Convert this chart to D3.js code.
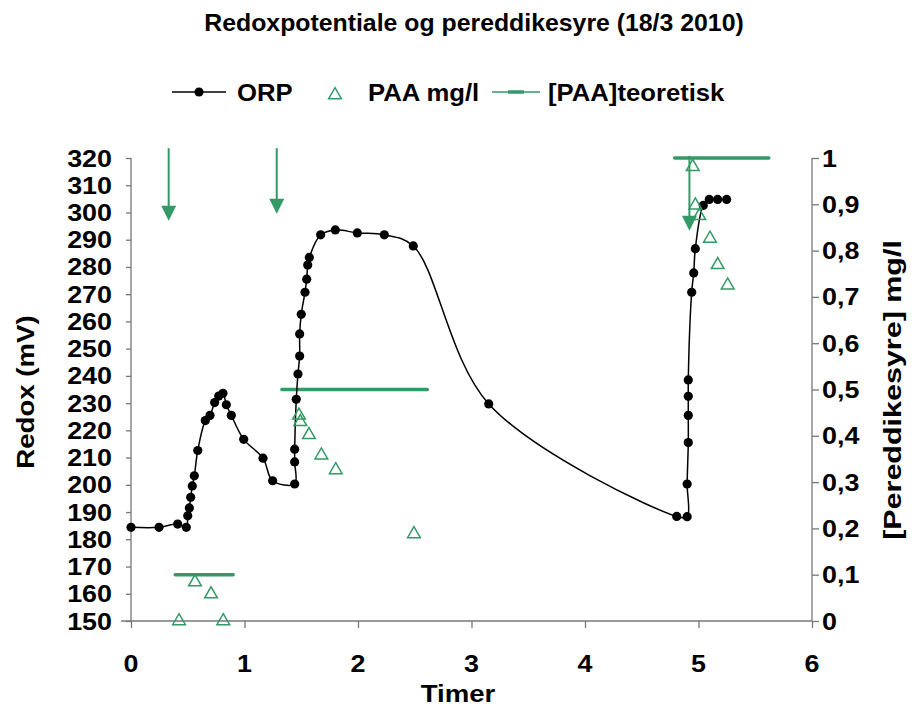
<!DOCTYPE html>
<html><head><meta charset="utf-8">
<script src="https://cdn.jsdelivr.net/npm/d3@7"></script>
<style>
body{margin:0;background:#fff;}
text{font-family:"Liberation Sans",Arial,sans-serif;font-weight:bold;fill:#000;}
</style></head>
<body><svg id="c" width="915" height="706"></svg>
<script>
// ORP (mV), time in hours
const orpTime = [0,0.247,0.411,0.487,0.50,0.514,0.526,0.54,0.558,0.588,0.655,0.696,0.737,0.773,0.81,0.84,0.884,0.993,1.163,1.248,1.442,1.442,1.442,1.456,1.471,1.486,1.486,1.50,1.533,1.548,1.557,1.571,1.671,1.80,1.994,2.232,2.487,3.152,4.808,4.90,4.90,4.91,4.91,4.91,4.91,4.94,4.958,4.972,5.042,5.095,5.169,5.248];
const orpValue = [184.4,184.4,185.6,184.4,188.6,191.5,195.4,199.6,203.3,212.6,223.6,225.5,230.2,232.6,233.6,229.4,225.5,216.7,209.8,201.5,200.3,208.4,213.1,231.4,240.7,247.3,255.4,262.6,270.7,275.5,280.7,283.5,291.8,293.6,292.5,291.8,287.7,229.7,188.4,188.3,200.3,215.5,225.5,232.5,238.5,270.7,277.8,286.7,302.6,304.8,304.8,304.8];
// PAA measured (mg/l)
const paaTime = [0.423,0.564,0.705,0.813,1.48,1.492,1.568,1.677,1.804,2.493,4.949,4.972,5.007,5.101,5.169,5.257];
const paaValue = [0,0.084,0.058,0,0.444,0.43,0.402,0.358,0.326,0.188,0.981,0.898,0.875,0.826,0.769,0.725];
// Theoretical PAA (mg/l): start time, end time, level
const theoStart = [0.39,1.33,4.79];
const theoEnd = [0.90,2.61,5.62];
const theoLevel = [0.1,0.5,1.0];
// Dosing arrows: time, top (mV), tip (mV)
const arrowTime = [0.332,1.284,4.92];
const arrowTop = [323.6,323.6,320.8];
const arrowTip = [297.0,299.5,293.3];
// Ticks
const xTicks = [0,1,2,3,4,5,6];
const yLeftTicks = d3.range(150,321,10);
const yRightTicks = [0,0.1,0.2,0.3,0.4,0.5,0.6,0.7,0.8,0.9,1];
const title = "Redoxpotentiale og pereddikesyre (18/3 2010)";
const xTitle = "Timer", yLeftTitle = "Redox (mV)", yRightTitle = "[Pereddikesyre] mg/l";
const legendLabels = ["ORP","PAA mg/l","[PAA]teoretisk"];

const GREEN = "#339966", AXIS = "#777";
const svg = d3.select("#c");
const L=131, R=812, T=158, B=621;
const x = d3.scaleLinear().domain([0,6]).range([L,R]);
const y = d3.scaleLinear().domain([150,320]).range([B,T]);
const y2 = d3.scaleLinear().domain([0,1]).range([B,T]);

function txt(g, s, px, py, anchor, size, sx, rot){
  return g.append("text").text(s)
    .attr("transform", `translate(${px},${py})` + (rot?` rotate(${rot})`:"") + ` scale(${sx},1)`)
    .attr("text-anchor", anchor).attr("font-size", size);
}

// Axes
const gx = svg.append("g").attr("transform",`translate(0,${B})`)
  .call(d3.axisBottom(x).tickValues(xTicks).tickSize(7).tickFormat(""));
const gy = svg.append("g").attr("transform",`translate(${L},0)`)
  .call(d3.axisLeft(y).tickValues(yLeftTicks).tickSize(5).tickFormat(""));
const gy2 = svg.append("g").attr("transform",`translate(${R},0)`)
  .call(d3.axisRight(y2).tickValues(yRightTicks).tickSize(7).tickFormat(""));
[gx,gy,gy2].forEach(g=>{g.selectAll("path,line").attr("stroke",AXIS).attr("stroke-width",1.3);});
gy.select("path").attr("d",`M0,${T}V${B}`);
gy2.select("path").attr("d",`M0,${T}V${B}`);
gx.select("path").attr("d",`M${L-10},0H${R}`);

const TF=24, TS=1.12;
const labels = svg.append("g");
xTicks.forEach(v=>txt(labels, String(v), x(v), 672, "middle", TF, TS));
yLeftTicks.forEach(v=>txt(labels, String(v), 112, y(v)+8.5, "end", TF, TS));
yRightTicks.forEach(v=>txt(labels, String(v).replace(".",","), 822, y2(v)+8.5, "start", TF, TS));

txt(svg, title, 474, 31, "middle", 23, 1.08);
txt(svg, xTitle, 458, 702, "middle", 24, 1.15);
txt(svg, yLeftTitle, 34, 392, "middle", 24, 1.15, -90);
txt(svg, yRightTitle, 901, 390, "middle", 24, 1.27, -90);

// Theoretical lines
svg.append("g").selectAll("line").data(theoLevel).join("line")
  .attr("x1",(d,i)=>x(theoStart[i])).attr("x2",(d,i)=>x(theoEnd[i]))
  .attr("y1",d=>y2(d)).attr("y2",d=>y2(d))
  .attr("stroke",GREEN).attr("stroke-width",3.5).attr("stroke-linecap","round");

// Arrows
const ag = svg.append("g");
arrowTime.forEach((t,i)=>{
  const ax=x(t), yt=y(arrowTop[i]), yp=y(arrowTip[i]);
  ag.append("line").attr("x1",ax).attr("x2",ax).attr("y1",yt).attr("y2",yp-12)
    .attr("stroke",GREEN).attr("stroke-width",2);
  ag.append("path").attr("d",`M${ax-7.5},${yp-15}L${ax+7.5},${yp-15}L${ax},${yp}Z`).attr("fill",GREEN);
});

// ORP line
const orp = orpTime.map((t,i)=>[t,orpValue[i]]);
svg.append("path").datum(orp)
  .attr("d", d3.line().x(d=>x(d[0])).y(d=>y(d[1])).curve(d3.curveCatmullRom.alpha(0.5)))
  .attr("fill","none").attr("stroke","#000").attr("stroke-width",1.5);
svg.append("g").selectAll("circle").data(orp).join("circle")
  .attr("cx",d=>x(d[0])).attr("cy",d=>y(d[1])).attr("r",4.6).attr("fill","#000");

// PAA triangles
const tri = d3.symbol().type(d3.symbolTriangle).size(70);
svg.append("g").selectAll("path").data(paaTime).join("path")
  .attr("d",tri).attr("transform",(d,i)=>`translate(${x(d)},${y2(paaValue[i])})`)
  .attr("fill","none").attr("stroke",GREEN).attr("stroke-width",1.5);

// Legend
const LF=24, LS=1.07;
const lg = svg.append("g");
lg.append("line").attr("x1",172).attr("x2",226).attr("y1",92).attr("y2",92).attr("stroke","#000").attr("stroke-width",1.5);
lg.append("circle").attr("cx",199).attr("cy",92).attr("r",4.6).attr("fill","#000");
txt(lg, legendLabels[0], 237, 101, "start", LF, LS);
lg.append("path").attr("d",tri).attr("transform","translate(335,95)").attr("fill","none").attr("stroke",GREEN).attr("stroke-width",1.5);
txt(lg, legendLabels[1], 368, 101, "start", LF, LS);
lg.append("line").attr("x1",492).attr("x2",540).attr("y1",92).attr("y2",92).attr("stroke",GREEN).attr("stroke-width",1.5);
lg.append("line").attr("x1",508).attr("x2",524).attr("y1",92).attr("y2",92).attr("stroke",GREEN).attr("stroke-width",3.5);
txt(lg, legendLabels[2], 548, 101, "start", LF, LS);
</script></body></html>
